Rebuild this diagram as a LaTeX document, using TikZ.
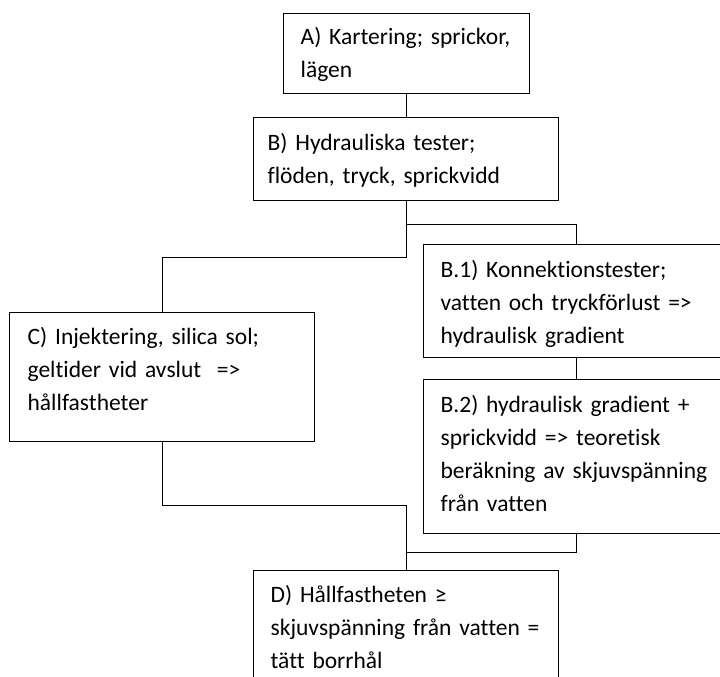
\documentclass[tikz,border=0pt]{standalone}
\usepackage{fontspec}
\setmainfont{Carlito}[Ligatures=NoCommon]
\begin{document}
\frenchspacing
\begin{tikzpicture}[x=1pt,y=-1pt,
  box/.style={draw, line width=1.3pt, anchor=north west, inner ysep=0pt, align=left,
    font=\fontsize{23.5}{33}\selectfont},
  conn/.style={draw, line width=1.3pt}]
\useasboundingbox (0,0) rectangle (720,677);
\fill[white] (0,0) rectangle (720,677);
\clip (0,0) rectangle (720,677);
\node[box, inner xsep=17pt, text width=212pt, text height=31pt, text depth=49pt] (A) at (283,13)
  {\mbox{A) Kartering; sprickor,}\\\mbox{lägen}};
\node[box, inner xsep=14pt, text width=277pt, text height=33pt, text depth=50pt] (B) at (253,117)
  {\mbox{B) Hydrauliska tester;}\\\mbox{flöden, tryck, sprickvidd}};
\node[box, inner xsep=17pt, text width=272pt, text height=33pt, text depth=80pt] (B1) at (423,244)
  {\mbox{B.1) Konnektionstester;}\\\mbox{vatten och tryckförlust =>}\\\mbox{hydraulisk gradient}};
\node[box, inner xsep=17pt, text width=272pt, text height=33pt, text depth=121pt] (B2) at (423,379)
  {\mbox{B.2) hydraulisk gradient +}\\\mbox{sprickvidd => teoretisk}\\\mbox{beräkning av skjuvspänning}\\\mbox{från vatten}};
\node[box, inner xsep=18pt, text width=269pt, text height=32pt, text depth=97pt] (C) at (9,312)
  {\mbox{C) Injektering, silica sol;}\\\mbox{geltider vid avslut\ \ =>}\\\mbox{hållfastheter}};
\node[box, inner xsep=17pt, text width=271pt, text height=32pt, text depth=118pt] (D) at (253,570)
  {\mbox{D) Hållfastheten ≥}\\\mbox{skjuvspänning från vatten =}\\\mbox{tätt borrhål}};
\draw[conn] (A.south) -- (A.south |- B.north);
\draw[conn] (B.south) -- ++(0,23) -| (B1.north);
\draw[conn] (B.south) -- ++(0,56) -| (C.north);
\draw[conn] (B1.south) -- (B2.north);
\draw[conn] (C.south) -- ++(0,63) -| (D.north);
\draw[conn] (B2.south) -- ++(0,18) -| (D.north);
\end{tikzpicture}
\end{document}
